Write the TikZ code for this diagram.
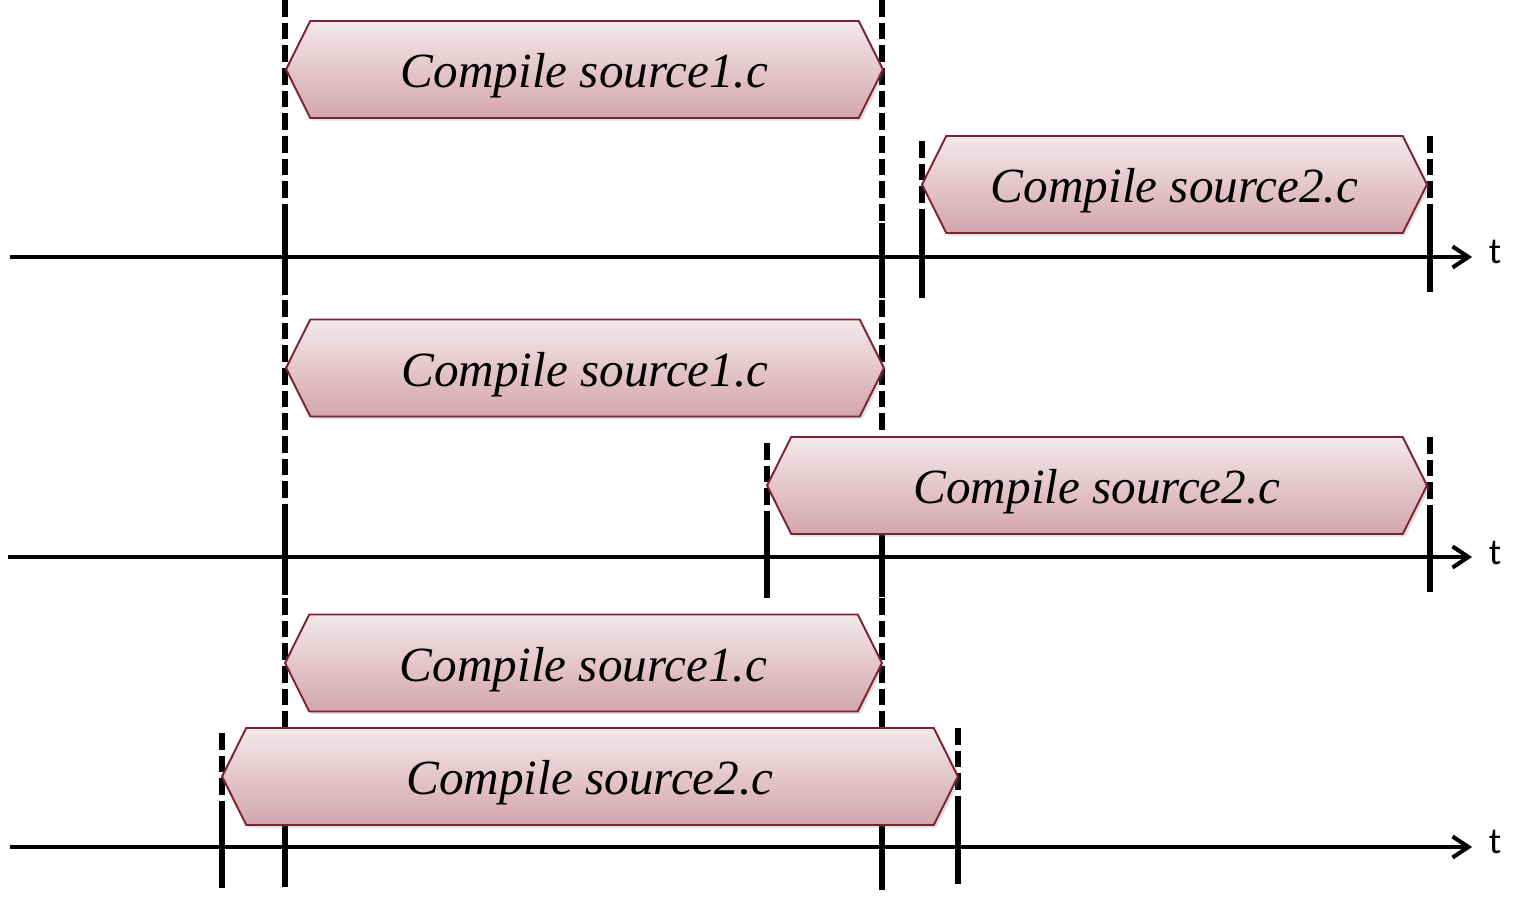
\documentclass[tikz,border=0pt]{standalone}
\usepackage{fontspec}
\setmainfont{Liberation Serif}
\newfontfamily\labelfont{Carlito}
\usetikzlibrary{shapes.symbols, shadows, arrows.meta}

\definecolor{tasktop}{RGB}{243,232,235}
\definecolor{taskbottom}{RGB}{212,165,173}
\definecolor{taskedge}{RGB}{122,34,52}

\tikzset{
  task/.style={signal, signal to=east and west, signal pointer angle=127,
    draw=taskedge, line width=1.1pt, top color=tasktop, bottom color=taskbottom,
    minimum height=1.94cm, inner sep=0pt, outer sep=0pt,
    text height=27pt, text depth=6pt,
    font=\fontsize{28}{31}\selectfont\itshape,
    drop shadow={opacity=0.25, shadow xshift=1.5pt, shadow yshift=-1.5pt}},
  timeaxis/.style={line width=2.3pt, -{Straight Barb[length=9pt, width=12pt]}},
  waitline/.style={line width=3pt, dash pattern=on 9.5pt off 3.4pt},
  runline/.style={line width=3pt},
  tlabel/.style={font=\labelfont\fontsize{21}{24}\selectfont}
}

\begin{document}
\begin{tikzpicture}[x=0.02cm, y=-0.02cm]
        \useasboundingbox (0,0) rectangle (1526,902);

        % ---------------------------------------------------
        % 1. Time axes
        % ---------------------------------------------------
        \coordinate (axisA0) at (10,257);
        \coordinate (axisA1) at (1472,257);
        \coordinate (axisB0) at (8,557);
        \coordinate (axisB1) at (1472,557);
        \coordinate (axisC0) at (10,847);
        \coordinate (axisC1) at (1472,847);

        \draw[timeaxis] (axisA0) -- (axisA1);
        \draw[timeaxis] (axisB0) -- (axisB1);
        \draw[timeaxis] (axisC0) -- (axisC1);

        \node[tlabel] (tA) at (1495,252) {t};
        \node[tlabel] (tB) at (1495,553) {t};
        \node[tlabel] (tC) at (1495,842) {t};

        % ---------------------------------------------------
        % 2. Start / end markers (dashed above, solid at the axis)
        % ---------------------------------------------------

        % top row: one after the other
        \draw[waitline] (285,0) -- (285,217);   \draw[runline] (285,217) -- (285,295);
        \draw[waitline] (882,0) -- (882,223);   \draw[runline] (882,223) -- (882,298);
        \draw[waitline] (922,141) -- (922,215); \draw[runline] (922,215) -- (922,298);
        \draw[waitline] (1430,136) -- (1430,208); \draw[runline] (1430,208) -- (1430,292);

        % middle row: second one starts before the first ends
        \draw[waitline] (285,300) -- (285,517); \draw[runline] (285,517) -- (285,595);
        \draw[waitline] (882,300) -- (882,520); \draw[runline] (882,520) -- (882,597);
        \draw[waitline] (767,443) -- (767,517); \draw[runline] (767,517) -- (767,598);
        \draw[waitline] (1430,437) -- (1430,510); \draw[runline] (1430,510) -- (1430,592);

        % bottom row: second one spans the first
        \draw[waitline] (285,598) -- (285,805); \draw[runline] (285,805) -- (285,887);
        \draw[waitline] (882,598) -- (882,805); \draw[runline] (882,805) -- (882,890);
        \draw[waitline] (222,733) -- (222,805); \draw[runline] (222,805) -- (222,888);
        \draw[waitline] (958,728) -- (958,800); \draw[runline] (958,800) -- (958,884);

        % ---------------------------------------------------
        % 3. Compile tasks
        % ---------------------------------------------------
        \node[task, minimum width=11.94cm] (firstA)  at (584.5,69.5) {Compile source1.c};
        \node[task, minimum width=10.10cm] (secondA) at (1174.5,184.5) {Compile source2.c};

        \node[task, minimum width=11.96cm] (firstB)  at (585,368) {Compile source1.c};
        \node[task, minimum width=13.20cm] (secondB) at (1097,485.5) {Compile source2.c};

        \node[task, minimum width=11.94cm] (firstC)  at (583.5,663) {Compile source1.c};
        \node[task, minimum width=14.72cm] (secondC) at (590,776.5) {Compile source2.c};

\end{tikzpicture}
\end{document}
